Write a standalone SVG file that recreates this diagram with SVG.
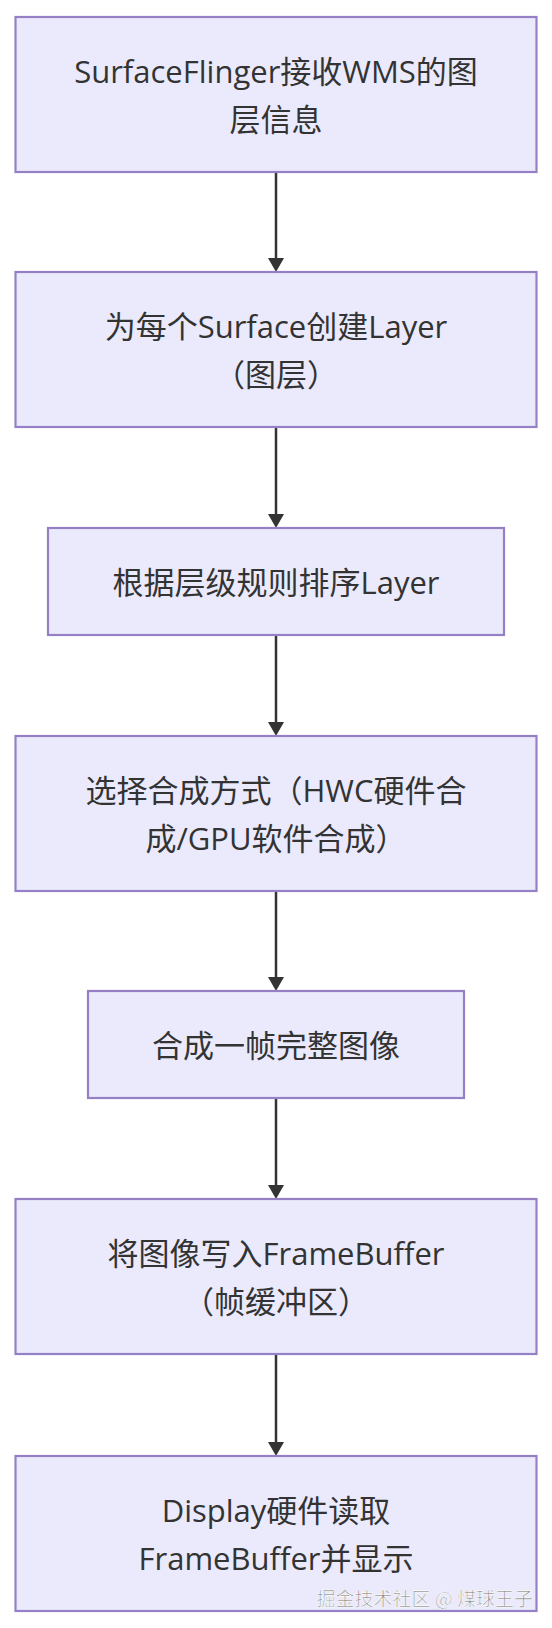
<svg xmlns="http://www.w3.org/2000/svg" width="552" height="1628" viewBox="0 0 552 1628">
<defs>
<style>
.node rect{fill:#EAEAFC;stroke:#9580C6;stroke-width:2.2}
.node text{font-family:"Open Sans","Noto Sans CJK SC",sans-serif;font-size:31px;fill:#333333;text-anchor:middle;dominant-baseline:central}
.edge{stroke:#333333;stroke-width:2.5;fill:none}
.wm{font-family:"Noto Sans CJK SC",sans-serif;font-size:19px;fill:#8c8c8c;stroke:#ffffff;stroke-width:0.6;text-anchor:end}
</style>
<marker id="arrow" viewBox="0 0 16 14" refX="8" refY="14" markerWidth="16" markerHeight="14" markerUnits="userSpaceOnUse" orient="auto-start-reverse">
<path d="M0,0 L16,0 L8,14 Z" fill="#333333"/>
</marker>
</defs>
<rect width="552" height="1628" fill="#ffffff"/>
<g id="connectors">
<line class="edge" x1="276" y1="172" x2="276" y2="258"/><path d="M268,258 L284,258 L276,272 Z" fill="#333"/>
<line class="edge" x1="276" y1="427" x2="276" y2="514"/><path d="M268,514 L284,514 L276,528 Z" fill="#333"/>
<line class="edge" x1="276" y1="635" x2="276" y2="722"/><path d="M268,722 L284,722 L276,736 Z" fill="#333"/>
<line class="edge" x1="276" y1="891" x2="276" y2="977"/><path d="M268,977 L284,977 L276,991 Z" fill="#333"/>
<line class="edge" x1="276" y1="1098" x2="276" y2="1185"/><path d="M268,1185 L284,1185 L276,1199 Z" fill="#333"/>
<line class="edge" x1="276" y1="1354" x2="276" y2="1442"/><path d="M268,1442 L284,1442 L276,1456 Z" fill="#333"/>
</g>
<g id="n1" class="node">
<rect x="15.5" y="17" width="521" height="155"/>
<text x="276" y="70.5">SurfaceFlinger接收WMS的图</text>
<text x="276" y="118.5">层信息</text>
</g>
<g id="n2" class="node">
<rect x="15.5" y="272" width="521" height="155"/>
<text x="276" y="325.5">为每个Surface创建Layer</text>
<text x="276" y="373.5">（图层）</text>
</g>
<g id="n3" class="node">
<rect x="48" y="528" width="456" height="107"/>
<text x="276" y="581.5">根据层级规则排序Layer</text>
</g>
<g id="n4" class="node">
<rect x="15.5" y="736" width="521" height="155"/>
<text x="276" y="789.5">选择合成方式（HWC硬件合</text>
<text x="276" y="837.5">成/GPU软件合成）</text>
</g>
<g id="n5" class="node">
<rect x="88" y="991" width="376" height="107"/>
<text x="276" y="1044.5">合成一帧完整图像</text>
</g>
<g id="n6" class="node">
<rect x="15.5" y="1199" width="521" height="155"/>
<text x="276" y="1252.5">将图像写入FrameBuffer</text>
<text x="276" y="1300.5">（帧缓冲区）</text>
</g>
<g id="n7" class="node">
<rect x="15.5" y="1456" width="521" height="155"/>
<text x="276" y="1509.5">Display硬件读取</text>
<text x="276" y="1557.5">FrameBuffer并显示</text>
</g>
<text class="wm" x="533" y="1606">掘金技术社区 @ 煤球王子</text>
</svg>
